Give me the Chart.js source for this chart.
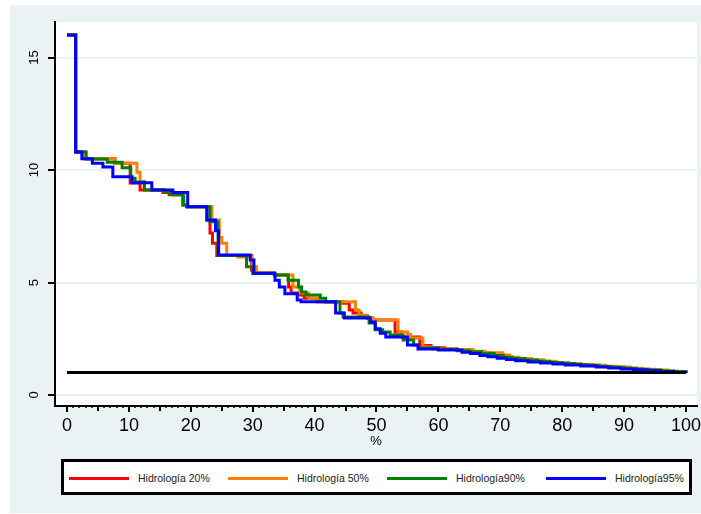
<!DOCTYPE html>
<html>
<head>
<meta charset="utf-8">
<script src="https://cdn.jsdelivr.net/npm/chart.js@4.4.1/dist/chart.umd.min.js"></script>
<style>
  body { margin: 0; background: #fff; }
  #wrap { position: relative; width: 701px; height: 514px; }
  #legend {
    position: absolute; left: 61px; top: 459px; width: 631px; height: 36px;
    box-sizing: border-box; border: 3px solid #000; background: #fff;
    font-family: 'Liberation Sans', Arial, sans-serif; font-size: 10.5px; color: #222;
  }
  .sw { position: absolute; top: 15px; width: 60px; height: 3px; }
  .lb { position: absolute; top: 10px; line-height: 13px; white-space: nowrap; }
</style>
</head>
<body>
<div id="wrap">
  <canvas id="chart" width="701" height="514"></canvas>
  <div id="legend"></div>
</div>
<script>
// tick labels
const xTicks = [0, 10, 20, 30, 40, 50, 60, 70, 80, 90, 100];
const yTicks = [0, 5, 10, 15];

const seriesNames = ['Hidrología 20%', 'Hidrología 50%', 'Hidrología90%', 'Hidrología95%'];
const seriesColors = ['#ff0000', '#ff8000', '#008000', '#0000ff'];

// duration curves: % of time (x) where each level starts, and the level (y)
const redX = [0, 1.4, 2.9, 7.75, 10.2, 11.8, 15.5, 16.5, 18.7, 19.3, 22.6, 23.1, 23.5, 24.2, 29.8, 30.4, 33.5, 35.8, 36.2, 37.2, 38.3, 40.4, 44.6, 45.6, 46.2, 47.5, 48.5, 49.4, 53.0, 54.0, 57.0, 58.8, 61, 63, 65.5, 67, 68.5, 70, 71.5, 73, 75, 77, 79, 81, 83, 85, 87, 89, 91, 93, 95, 97, 99, 100];
const redY = [16, 10.8, 10.5, 10.3, 9.42, 9.11, 9.0, 8.9, 8.44, 8.37, 7.78, 7.2, 6.75, 6.2, 5.55, 5.4, 5.33, 4.8, 4.53, 4.44, 4.3, 4.15, 4.08, 3.78, 3.64, 3.5, 3.42, 3.33, 2.8, 2.58, 2.2, 2.1, 2.05, 2.0, 1.93, 1.88, 1.8, 1.72, 1.65, 1.6, 1.54, 1.48, 1.43, 1.38, 1.34, 1.3, 1.26, 1.22, 1.17, 1.13, 1.09, 1.05, 1.01, 1.0];

const orangeX = [0, 1.4, 2.9, 7.75, 11.3, 11.8, 12.5, 15.8, 17.0, 18.9, 19.5, 23.4, 24.6, 25.0, 25.8, 27.6, 29.9, 30.6, 33.5, 36.5, 37.6, 39.0, 40.5, 46.6, 47.2, 48.5, 49.4, 53.5, 55.0, 55.5, 57.5, 59, 62, 65.6, 67.5, 70.4, 71.5, 73, 75, 77, 79, 81, 83, 85, 87, 89, 91, 93, 95, 97, 98.5, 100];
const orangeY = [16, 10.8, 10.5, 10.3, 9.9, 9.47, 9.11, 9.0, 8.9, 8.44, 8.37, 7.78, 7.0, 6.75, 6.2, 6.13, 5.7, 5.45, 5.33, 4.8, 4.53, 4.3, 4.15, 3.78, 3.55, 3.42, 3.33, 2.8, 2.7, 2.53, 2.13, 2.04, 2.02, 1.95, 1.88, 1.78, 1.68, 1.62, 1.56, 1.5, 1.45, 1.4, 1.36, 1.32, 1.28, 1.24, 1.19, 1.15, 1.11, 1.07, 1.03, 1.0];

const greenX = [0, 1.4, 3.1, 6.5, 8.9, 10.3, 11.0, 12.5, 15.8, 17.0, 18.8, 19.4, 23.1, 24.4, 29.0, 30.0, 33.5, 35.7, 37.4, 37.9, 38.6, 40.9, 41.8, 44.1, 44.6, 48.8, 49.8, 51.0, 52.2, 54.3, 56.0, 56.8, 60, 63, 65, 67, 69, 70.5, 72, 74, 76, 78, 80, 82, 84, 86, 88, 90, 92, 94, 96, 98, 100];
const greenY = [16, 10.8, 10.49, 10.35, 10.1, 9.63, 9.47, 9.11, 9.0, 8.9, 8.44, 8.37, 7.7, 6.2, 5.7, 5.4, 5.33, 5.1, 4.8, 4.58, 4.44, 4.3, 4.13, 3.64, 3.47, 3.2, 2.9, 2.8, 2.67, 2.44, 2.22, 2.09, 2.03, 1.97, 1.92, 1.85, 1.76, 1.68, 1.62, 1.56, 1.5, 1.45, 1.4, 1.36, 1.32, 1.27, 1.23, 1.19, 1.15, 1.11, 1.07, 1.03, 1.0];

const blueX = [0, 1.4, 2.4, 4.1, 5.8, 7.4, 10.5, 13.7, 17.1, 19.5, 22.6, 24.0, 24.5, 29.6, 30.2, 33.6, 34.3, 35.2, 37.2, 37.8, 43.4, 44.8, 49.0, 49.8, 50.6, 51.5, 55, 56.7, 60, 63.8, 65.2, 66.7, 68, 69.5, 71, 72.5, 74.5, 76.5, 78.5, 80.5, 83, 85.5, 87.5, 89.5, 91.5, 93.5, 95.8, 98, 100];
const blueY = [16, 10.8, 10.5, 10.3, 10.13, 9.7, 9.44, 9.11, 9.0, 8.37, 7.78, 7.3, 6.22, 6.0, 5.41, 5.1, 4.8, 4.5, 4.22, 4.15, 3.64, 3.42, 3.24, 2.95, 2.75, 2.58, 2.22, 2.04, 2.0, 1.9, 1.84, 1.76, 1.7, 1.63, 1.58, 1.52, 1.47, 1.42, 1.38, 1.33, 1.29, 1.25, 1.2, 1.16, 1.12, 1.09, 1.05, 1.01, 0.98];

// reference line at 1
const refX = [0, 100];
const refY = [1, 1];

const toPoints = (xs, ys) => xs.map((x, i) => ({ x: x, y: ys[i] }));

Chart.defaults.font.family = "'Liberation Sans', Arial, sans-serif";
Chart.defaults.color = '#000';

const bgPlugin = {
  id: 'bg',
  beforeDraw(chart) {
    const { ctx, chartArea } = chart;
    ctx.save();
    ctx.fillStyle = '#fff';
    ctx.fillRect(0, 0, chart.width, chart.height);
    ctx.fillStyle = '#eaf2f3';
    ctx.fillRect(10, 5, chart.width - 10, chart.height - 6);
    ctx.fillStyle = '#fff';
    ctx.fillRect(chartArea.left, chartArea.top, chartArea.right - chartArea.left, chartArea.bottom - chartArea.top);
    ctx.restore();
  }
};

// Stata style tick marks outside the axes
const tickPlugin = {
  id: 'stataTicks',
  afterDraw(chart) {
    const { ctx, chartArea, scales } = chart;
    ctx.save();
    ctx.strokeStyle = '#000';
    for (let v = 0; v <= 100; v++) {
      const px = Math.round(scales.x.getPixelForValue(v));
      let len = 2, w = 1.5;
      if (v % 10 === 0) { len = 6; w = 2; } else if (v % 5 === 0) { len = 5; w = 2; }
      ctx.lineWidth = w;
      ctx.beginPath();
      ctx.moveTo(px, chartArea.bottom);
      ctx.lineTo(px, chartArea.bottom + len);
      ctx.stroke();
    }
    ctx.lineWidth = 2;
    yTicks.forEach(v => {
      const py = Math.round(scales.y.getPixelForValue(v));
      ctx.beginPath();
      ctx.moveTo(chartArea.left, py);
      ctx.lineTo(chartArea.left - 7, py);
      ctx.stroke();
    });
    ctx.restore();
  }
};

const series = [
  { xs: redX, ys: redY },
  { xs: orangeX, ys: orangeY },
  { xs: greenX, ys: greenY },
  { xs: blueX, ys: blueY }
];

const datasets = series.map((s, i) => ({
  label: seriesNames[i],
  data: toPoints(s.xs, s.ys),
  borderColor: seriesColors[i],
  borderWidth: 3,
  pointRadius: 0,
  stepped: 'before',
  fill: false,
  order: 4 - i
}));
datasets.push({
  label: 'ref',
  data: toPoints(refX, refY),
  borderColor: '#000',
  borderWidth: 3,
  pointRadius: 0,
  fill: false,
  order: 0
});

new Chart(document.getElementById('chart'), {
  type: 'line',
  data: { datasets: datasets },
  options: {
    responsive: false,
    animation: false,
    layout: { padding: { left: 10, right: 4, top: 22, bottom: 0 } },
    plugins: { legend: { display: false }, tooltip: { enabled: false } },
    scales: {
      x: {
        type: 'linear',
        min: -1.94,
        max: 101.78,
        afterBuildTicks: s => { s.ticks = xTicks.map(v => ({ value: v })); },
        afterFit: s => { s.height = 108; s.paddingLeft = 0; s.paddingRight = 0; },
        grid: { display: false, drawTicks: false },
        border: { display: true, color: '#000', width: 2 },
        ticks: { padding: 9, font: { size: 18 }, maxRotation: 0, autoSkip: false },
        title: { display: true, text: '%', font: { size: 13 }, padding: { top: 0, bottom: 65 } }
      },
      y: {
        type: 'linear',
        min: -0.489,
        max: 16.58,
        afterBuildTicks: s => { s.ticks = yTicks.map(v => ({ value: v })); },
        afterFit: s => { s.width = 45; s.paddingTop = 0; s.paddingBottom = 0; },
        grid: { color: '#eaf2f3', lineWidth: 2, drawTicks: false },
        border: { display: true, color: '#000', width: 2 },
        ticks: { padding: 13, font: { size: 13 }, minRotation: 90, maxRotation: 90, crossAlign: 'center', autoSkip: false }
      }
    }
  },
  plugins: [bgPlugin, tickPlugin]
});

// legend box
const legend = document.getElementById('legend');
seriesNames.forEach((name, i) => {
  const left = 5 + i * 159;
  const sw = document.createElement('div');
  sw.className = 'sw';
  sw.style.left = left + 'px';
  sw.style.background = seriesColors[i];
  legend.appendChild(sw);
  const lb = document.createElement('div');
  lb.className = 'lb';
  lb.style.left = (left + 69) + 'px';
  lb.textContent = name;
  legend.appendChild(lb);
});
</script>
</body>
</html>
